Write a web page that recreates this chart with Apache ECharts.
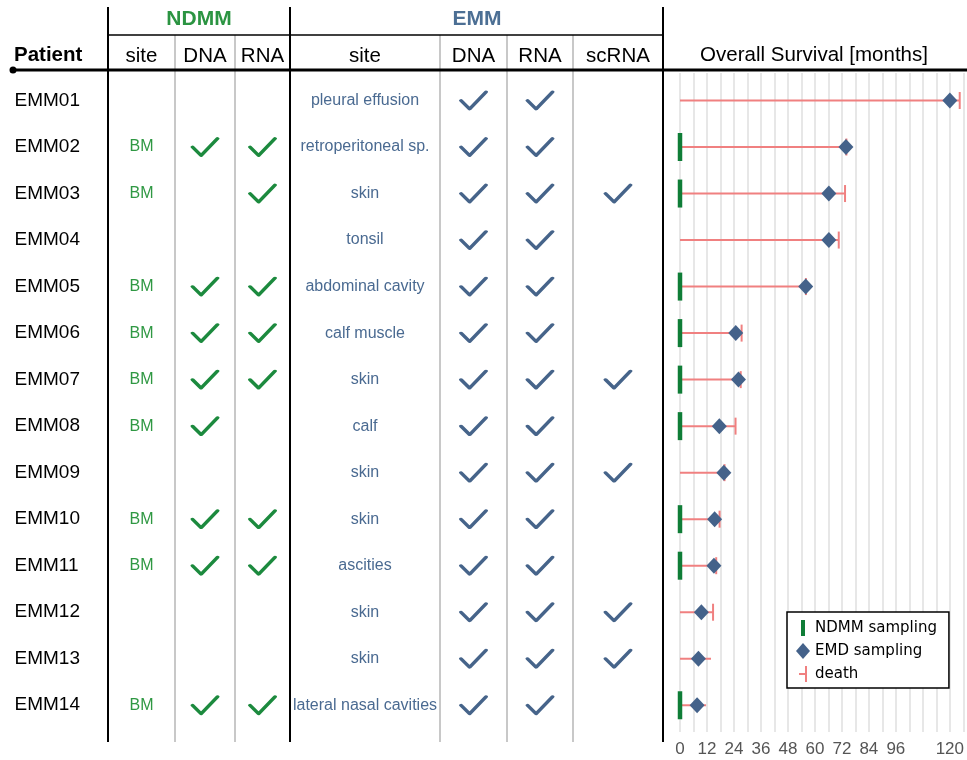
<!DOCTYPE html>
<html>
<head>
<meta charset="utf-8">
<script src="https://cdn.jsdelivr.net/npm/echarts@6/dist/echarts.min.js"></script>
<style>
  html, body { margin: 0; padding: 0; background: #fff; }
  #chart { width: 967px; height: 760px; }
</style>
</head>
<body>
<div id="chart"></div>
<script>
// ---- data ----
const patients = ['EMM01', 'EMM02', 'EMM03', 'EMM04', 'EMM05', 'EMM06', 'EMM07',
  'EMM08', 'EMM09', 'EMM10', 'EMM11', 'EMM12', 'EMM13', 'EMM14'];
const ndmmSite = ['', 'BM', 'BM', '', 'BM', 'BM', 'BM', 'BM', '', 'BM', 'BM', '', '', 'BM'];
const ndmmDna = [0, 1, 0, 0, 1, 1, 1, 1, 0, 1, 1, 0, 0, 1];
const ndmmRna = [0, 1, 1, 0, 1, 1, 1, 0, 0, 1, 1, 0, 0, 1];
const emmSite = ['pleural effusion', 'retroperitoneal sp.', 'skin', 'tonsil', 'abdominal cavity',
  'calf muscle', 'skin', 'calf', 'skin', 'skin', 'ascities', 'skin', 'skin', 'lateral nasal cavities'];
const emmDna = [1, 1, 1, 1, 1, 1, 1, 1, 1, 1, 1, 1, 1, 1];
const emmRna = [1, 1, 1, 1, 1, 1, 1, 1, 1, 1, 1, 1, 1, 1];
const emmScRna = [0, 0, 1, 0, 0, 0, 1, 0, 1, 0, 0, 1, 1, 0];

// survival, months
const ndmmSampling = [null, 0, 0, null, 0, 0, 0, 0, null, 0, 0, null, null, 0];
const emdSampling = [120, 73.8, 66.2, 66.2, 55.9, 24.8, 26.0, 17.5, 19.5, 15.4, 15.1, 9.5, 8.2, 7.6];
const followUp = [124.4, 74.0, 73.4, 70.6, 56.0, 27.4, 27.0, 24.7, 19.8, 17.6, 16.1, 14.7, 13.8, 11.6];
const died = [1, 1, 1, 1, 1, 1, 1, 1, 1, 1, 1, 1, 0, 0];
const survivalTicks = [0, 12, 24, 36, 48, 60, 72, 84, 96, 120];

const columnHeaders = ['site', 'DNA', 'RNA', 'site', 'DNA', 'RNA', 'scRNA'];

// ---- layout ----
const colEdges = [108, 175, 235, 290, 440, 507, 573, 663];
const ROW0 = 100.5, ROW_STEP = 46.52;
const TABLE_TOP = 70, TABLE_H = 672;
const SURV_TOP = 73, SURV_H = 659;

const GREEN_HEAD = '#2b9442', GREEN_TEXT = '#2f9843', GREEN_CHECK = '#1c8a3e', GREEN_BAR = '#0f7d37';
const BLUE_HEAD = '#4c6f94', BLUE_TEXT = '#4a6a91', BLUE_CHECK = '#46648a', DIAMOND = '#44628a';
const SALMON = '#f08080';
const SANS = '"Liberation Sans", Arial, Helvetica, sans-serif';
const CHECK = 'path://M0,10L10,20L29,0';

function rowRange(top, height) {
  const min = -(ROW0 - top) / ROW_STEP;
  return { min: min, max: min + height / ROW_STEP };
}

const chart = echarts.init(document.getElementById('chart'));

const grids = [], xAxes = [], yAxes = [], series = [];

// patient column
grids.push({ left: 14, top: TABLE_TOP, width: 94, height: TABLE_H });
xAxes.push({ type: 'value', gridIndex: 0, min: 0, max: 1, show: false });
yAxes.push(Object.assign({ type: 'value', gridIndex: 0, inverse: true, show: false }, rowRange(TABLE_TOP, TABLE_H)));
series.push({
  type: 'scatter', xAxisIndex: 0, yAxisIndex: 0, symbolSize: 1, silent: true,
  itemStyle: { color: 'transparent', opacity: 1 },
  data: patients.map((p, i) => ({ value: [0, i], name: p })),
  label: { show: true, position: 'right', distance: 0, formatter: '{b}', color: '#000', fontSize: 19, fontFamily: SANS }
});

// table columns
const columns = [
  { kind: 'text', values: ndmmSite, color: GREEN_TEXT },
  { kind: 'check', values: ndmmDna, color: GREEN_CHECK },
  { kind: 'check', values: ndmmRna, color: GREEN_CHECK },
  { kind: 'text', values: emmSite, color: BLUE_TEXT },
  { kind: 'check', values: emmDna, color: BLUE_CHECK },
  { kind: 'check', values: emmRna, color: BLUE_CHECK },
  { kind: 'check', values: emmScRna, color: BLUE_CHECK }
];

columns.forEach((col, c) => {
  const gi = c + 1;
  grids.push({ left: colEdges[c], top: TABLE_TOP, width: colEdges[c + 1] - colEdges[c], height: TABLE_H });
  xAxes.push({
    type: 'category', gridIndex: gi, data: [columnHeaders[c]], position: 'top',
    axisLine: { show: false }, axisTick: { show: false },
    axisLabel: { margin: 3, fontSize: 20.5, color: '#000', fontFamily: SANS }
  });
  yAxes.push(Object.assign({ type: 'value', gridIndex: gi, inverse: true, show: false }, rowRange(TABLE_TOP, TABLE_H)));
  if (col.kind === 'text') {
    series.push({
      type: 'scatter', xAxisIndex: gi, yAxisIndex: gi, symbolSize: 1, silent: true,
      itemStyle: { color: 'transparent', opacity: 1 },
      data: col.values.map((v, i) => v ? { value: [0, i], name: v } : null).filter(d => d),
      label: { show: true, position: 'inside', formatter: '{b}', color: col.color, fontSize: 16, fontFamily: SANS }
    });
  } else {
    series.push({
      type: 'scatter', xAxisIndex: gi, yAxisIndex: gi, silent: true,
      symbol: CHECK, symbolSize: [25, 17],
      itemStyle: { color: 'none', borderColor: col.color, borderWidth: 3.3, borderCap: 'round', borderJoin: 'round', opacity: 1 },
      data: col.values.map((v, i) => v ? [0, i] : null).filter(d => d)
    });
  }
});

// survival panel
const SG = columns.length + 1;
grids.push({ left: 680, top: SURV_TOP, width: 287, height: SURV_H });
xAxes.push({
  type: 'value', gridIndex: SG, min: 0, max: 126, interval: 6,
  axisLine: { show: false }, axisTick: { show: false },
  splitLine: { show: true, lineStyle: { color: '#dfdfdf', width: 1.5 } },
  axisLabel: {
    margin: 9, fontSize: 17, color: '#555', fontFamily: SANS,
    formatter: v => survivalTicks.indexOf(v) >= 0 ? String(v) : ''
  }
});
yAxes.push(Object.assign({ type: 'value', gridIndex: SG, inverse: true, show: false }, rowRange(SURV_TOP, SURV_H)));

series.push({
  type: 'custom', xAxisIndex: SG, yAxisIndex: SG, silent: true, z: 1, clip: false,
  data: followUp.map((v, i) => [v, i]),
  renderItem: function (params, api) {
    const s = api.coord([0, api.value(1)]);
    const e = api.coord([api.value(0), api.value(1)]);
    return {
      type: 'line',
      shape: { x1: s[0], y1: s[1], x2: e[0], y2: e[1] },
      style: { stroke: SALMON, lineWidth: 2 }
    };
  }
});
series.push({
  name: 'death', type: 'scatter', xAxisIndex: SG, yAxisIndex: SG, silent: true, z: 2, clip: false,
  symbol: 'rect', symbolSize: [2, 17], itemStyle: { color: SALMON, opacity: 1 },
  data: followUp.map((v, i) => died[i] ? [v, i] : null).filter(d => d)
});
series.push({
  name: 'NDMM sampling', type: 'scatter', xAxisIndex: SG, yAxisIndex: SG, silent: true, z: 3, clip: false,
  symbol: 'rect', symbolSize: [4.5, 28], itemStyle: { color: GREEN_BAR, opacity: 1 },
  data: ndmmSampling.map((v, i) => v !== null ? [v, i] : null).filter(d => d)
});
series.push({
  name: 'EMD sampling', type: 'scatter', xAxisIndex: SG, yAxisIndex: SG, silent: true, z: 4, clip: false,
  symbol: 'diamond', symbolSize: [15, 16], itemStyle: { color: DIAMOND, opacity: 1 },
  data: emdSampling.map((v, i) => [v, i])
});

// table frame and headers
const graphics = [];
function vline(x, y1, y2, color, w) {
  graphics.push({ type: 'line', shape: { x1: x, y1: y1, x2: x, y2: y2 }, style: { stroke: color, lineWidth: w }, z: 0 });
}
[108, 290, 663].forEach(x => vline(x, 7, 742, '#000', 2));
[175, 235, 440, 507, 573].forEach(x => vline(x, 35, 742, '#c8c8c8', 2));
graphics.push({ type: 'line', shape: { x1: 108, y1: 35, x2: 663, y2: 35 }, style: { stroke: '#000', lineWidth: 1.5 } });
graphics.push({ type: 'line', shape: { x1: 12, y1: 70, x2: 967, y2: 70 }, style: { stroke: '#000', lineWidth: 3 }, z: 10 });
graphics.push({ type: 'circle', shape: { cx: 13, cy: 70, r: 3.5 }, style: { fill: '#000' }, z: 10 });
function htext(text, x, y, font, color, align) {
  graphics.push({ type: 'text', x: x, y: y, style: { text: text, font: font, fill: color, align: align || 'center', verticalAlign: 'middle' } });
}
htext('NDMM', 199, 19, 'bold 21px ' + SANS, GREEN_HEAD);
htext('EMM', 477, 19, 'bold 21px ' + SANS, BLUE_HEAD);
htext('Patient', 14, 55, 'bold 20.5px ' + SANS, '#000', 'left');
htext('Overall Survival [months]', 814, 55, '20.5px ' + SANS, '#000');

chart.setOption({
  animation: false,
  backgroundColor: '#fff',
  grid: grids,
  xAxis: xAxes,
  yAxis: yAxes,
  legend: {
    data: [
      { name: 'NDMM sampling', icon: 'path://M0,0h4v16h-4z', itemStyle: { opacity: 1 } },
      { name: 'EMD sampling', icon: 'diamond', itemStyle: { opacity: 1 } },
      { name: 'death', icon: 'path://M0,7h6v2h-6z M6,0h2v16h-2z', itemStyle: { opacity: 1 } }
    ],
    orient: 'vertical',
    left: 787, top: 612,
    padding: [8, 12, 6, 9],
    itemWidth: 14, itemHeight: 16, itemGap: 7,
    backgroundColor: '#fff',
    borderColor: '#000', borderWidth: 1.5, borderRadius: 0,
    textStyle: { fontSize: 15, color: '#000', fontFamily: '"DejaVu Sans", sans-serif' },
    selectedMode: false
  },
  graphic: graphics,
  series: series
});
</script>
</body>
</html>
